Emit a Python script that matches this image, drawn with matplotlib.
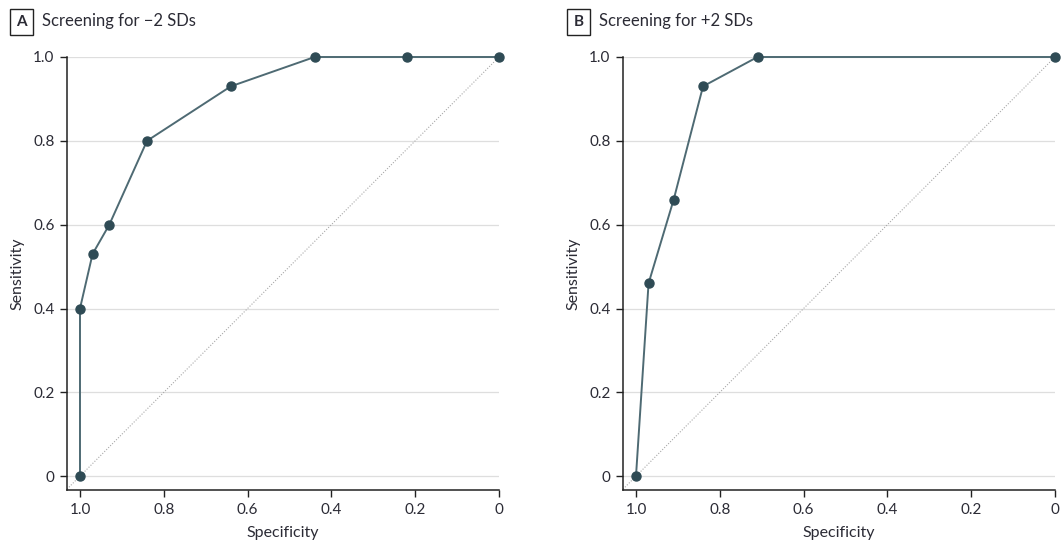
import matplotlib
matplotlib.use('Agg')
import matplotlib.pyplot as plt

# ── Data ──────────────────────────────────────────────────────────────────────
spec_a = [1.0, 1.0, 0.97, 0.93, 0.84, 0.64, 0.44, 0.22, 0.0]
sens_a = [0.0, 0.40, 0.53, 0.60, 0.80, 0.93, 1.0, 1.0, 1.0]

spec_b = [1.0, 0.97, 0.91, 0.84, 0.71, 0.0]
sens_b = [0.0, 0.46, 0.66, 0.93, 1.0, 1.0]

panel_letters = ['A', 'B']
panel_titles  = ['Screening for \u22122 SDs', 'Screening for +2 SDs']
ticks         = [1.0, 0.8, 0.6, 0.4, 0.2, 0.0]
tick_labels   = ['1.0', '0.8', '0.6', '0.4', '0.2', '0']

# ── Style ─────────────────────────────────────────────────────────────────────
FONT       = ['Lato', 'Open Sans', 'DejaVu Sans']
TEXT_COL   = '#2b2b35'
LINE_COL   = '#4e6a73'
MARK_COL   = '#2f4b55'
GRID_COL   = '#dedede'

plt.rcParams['font.family'] = FONT
plt.rcParams['text.color'] = TEXT_COL

fig = plt.figure(figsize=(10.61, 5.41), dpi=100)

axes_pos = [
    [67 / 1061, 51 / 541, 432 / 1061, 433 / 541],
    [623 / 1061, 51 / 541, 432 / 1061, 433 / 541],
]
box_x = [10, 567]

for i, (spec, sens) in enumerate([(spec_a, sens_a), (spec_b, sens_b)]):
    ax = fig.add_axes(axes_pos[i])
    ax.set_xlim(1.031, 0.0)
    ax.set_ylim(-0.033, 1.0)

    for t in ticks:
        ax.plot([1.031, 0.0], [t, t], color=GRID_COL, lw=0.9, zorder=1)
    ax.plot([1.031, 0.0], [-0.031, 1.0], color='#a8a8a8', lw=0.8,
            ls=(0, (1, 1.5)), zorder=2)

    ax.plot(spec, sens, color=LINE_COL, lw=1.4, zorder=3, clip_on=False)
    ax.plot(spec, sens, 'o', color=MARK_COL, ms=6.5, zorder=4, clip_on=False)

    for s in ['top', 'right']:
        ax.spines[s].set_visible(False)
    for s in ['left', 'bottom']:
        ax.spines[s].set_color('#222222')
        ax.spines[s].set_linewidth(1.1)

    ax.set_xticks(ticks)
    ax.set_xticklabels(tick_labels)
    ax.set_yticks(ticks)
    ax.set_yticklabels(tick_labels)
    ax.tick_params(direction='out', length=5, width=1, color='#222222',
                   labelsize=11, labelcolor=TEXT_COL, pad=4)

    ax.set_xlabel('Specificity', fontsize=11.5, color=TEXT_COL, labelpad=7)
    ax.set_ylabel('Sensitivity', fontsize=11.5, color=TEXT_COL, labelpad=6)

    # panel letter box + title
    bx = box_x[i]
    fig.text((bx + 11.5) / 1061, 1 - 22 / 541, panel_letters[i],
             ha='center', va='center', fontsize=11, fontweight='bold',
             color=TEXT_COL,
             bbox=dict(boxstyle='square,pad=0.4', fc='white', ec='#222222',
                       lw=1.0))
    fig.text((bx + 32) / 1061, 1 - 21 / 541, panel_titles[i],
             ha='left', va='center', fontsize=12, color=TEXT_COL)

fig.savefig('out.png', dpi=100)
